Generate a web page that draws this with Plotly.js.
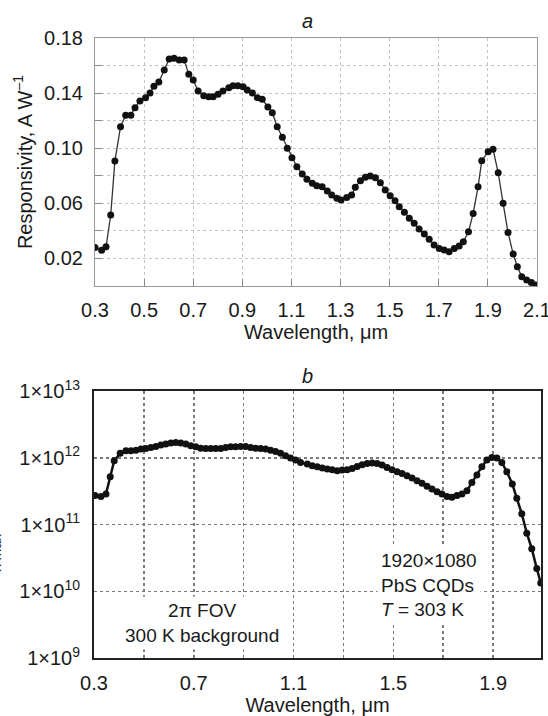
<!DOCTYPE html>
<html>
<head>
<meta charset="utf-8">
<script src="https://cdn.plot.ly/plotly-3.0.1.min.js"></script>
<style>html,body{margin:0;padding:0;background:#fff;}#chart{width:548px;height:716px;}</style>
</head>
<body>
<div id="chart"></div>
<script>
// Panel a: responsivity (A/W) vs wavelength (um)
var wavelengthA = [0.300,0.327,0.345,0.364,0.381,0.404,0.425,0.446,0.463,0.483,
  0.506,0.524,0.540,0.560,0.582,0.602,0.622,0.643,0.663,0.682,
  0.700,0.720,0.743,0.763,0.781,0.801,0.821,0.845,0.862,0.882,
  0.903,0.920,0.941,0.961,0.981,1.004,1.022,1.042,1.063,1.083,
  1.102,1.122,1.144,1.163,1.185,1.203,1.225,1.246,1.264,1.285,
  1.302,1.325,1.345,1.360,1.381,1.401,1.421,1.442,1.462,1.482,
  1.502,1.522,1.539,1.560,1.580,1.600,1.620,1.641,1.661,1.681,
  1.702,1.722,1.742,1.763,1.783,1.800,1.821,1.840,1.860,1.875,
  1.901,1.921,1.942,1.962,1.982,2.003,2.020,2.038,2.058,2.077,2.095];
var responsivity = [0.028,0.026,0.0285,0.0515,0.0907,0.1156,0.124,0.124,0.1294,0.1343,
  0.1367,0.140,0.145,0.148,0.1568,0.1648,0.1653,0.164,0.164,0.1536,
  0.1495,0.1415,0.138,0.1374,0.1374,0.1391,0.1415,0.1439,0.1454,0.1454,
  0.1446,0.1422,0.140,0.1367,0.1355,0.130,0.1258,0.1156,0.108,0.100,
  0.0931,0.0866,0.0813,0.0774,0.0745,0.0728,0.072,0.0689,0.066,0.0636,
  0.0624,0.0643,0.066,0.0716,0.0764,0.0789,0.0798,0.0786,0.075,0.0697,
  0.0655,0.0619,0.0575,0.0535,0.0491,0.0455,0.0413,0.0377,0.0339,0.0297,
  0.0273,0.0261,0.0249,0.0273,0.029,0.0321,0.0394,0.0527,0.072,0.0909,
  0.0975,0.0992,0.0822,0.060,0.0389,0.0232,0.014,0.0067,0.0043,0.0026,0.0007];
var tickValsA = [0.3,0.5,0.7,0.9,1.1,1.3,1.5,1.7,1.9,2.1];
var tickTextA = ['0.3','0.5','0.7','0.9','1.1','1.3','1.5','1.7','1.9','2.1'];

// Panel b: detectivity vs wavelength (um)
var wavelengthB = [0.304,0.328,0.348,0.365,0.381,0.405,0.428,0.448,0.468,0.488,
  0.508,0.528,0.548,0.568,0.588,0.608,0.628,0.648,0.668,0.688,
  0.708,0.728,0.748,0.768,0.788,0.808,0.828,0.848,0.868,0.888,
  0.908,0.928,0.948,0.968,0.988,1.008,1.028,1.048,1.068,1.088,
  1.108,1.128,1.155,1.175,1.195,1.215,1.235,1.255,1.275,1.295,
  1.315,1.335,1.355,1.375,1.395,1.415,1.435,1.455,1.475,1.495,
  1.515,1.535,1.555,1.575,1.595,1.615,1.635,1.655,1.675,1.695,
  1.715,1.735,1.755,1.775,1.795,1.815,1.835,1.855,1.875,1.895,
  1.915,1.935,1.955,1.977,1.995,2.015,2.035,2.055,2.075,2.091];
var detectivity = [2.71e11,2.63e11,2.87e11,5.20e11,9.02e11,1.17e12,1.27e12,1.27e12,1.30e12,1.35e12,
  1.38e12,1.43e12,1.48e12,1.55e12,1.60e12,1.66e12,1.69e12,1.66e12,1.60e12,1.51e12,
  1.46e12,1.39e12,1.38e12,1.38e12,1.38e12,1.38e12,1.43e12,1.46e12,1.46e12,1.48e12,
  1.48e12,1.43e12,1.39e12,1.38e12,1.35e12,1.30e12,1.24e12,1.17e12,1.07e12,9.89e11,
  9.23e11,8.51e11,8.05e11,7.59e11,7.35e11,7.02e11,6.76e11,6.61e11,6.40e11,6.55e11,
  6.61e11,6.92e11,7.41e11,7.87e11,8.22e11,8.32e11,8.22e11,7.76e11,7.16e11,6.61e11,
  6.17e11,5.83e11,5.37e11,4.98e11,4.54e11,4.14e11,3.73e11,3.40e11,3.09e11,2.87e11,
  2.63e11,2.55e11,2.71e11,2.87e11,3.21e11,4.27e11,5.50e11,7.35e11,9.23e11,1.01e12,
  9.89e11,8.51e11,6.17e11,4.05e11,2.47e11,1.45e11,7.41e10,4.34e10,2.19e10,1.33e10];

var logTickVals = [1e9, 1e10, 1e11, 1e12, 1e13];
var logTickText = ['1×10<sup>9</sup>','1×10<sup>10</sup>','1×10<sup>11</sup>','1×10<sup>12</sup>','1×10<sup>13</sup>'];

var W = 548, H = 716;
var FONT = 'Liberation Sans, Arial, Helvetica, sans-serif';

var traces = [
  {x: wavelengthA, y: responsivity, xaxis:'x', yaxis:'y', type:'scatter', mode:'lines+markers',
   line:{color:'#333', width:1.3}, marker:{color:'#111', size:7}, hoverinfo:'x+y'},
  {x: wavelengthB, y: detectivity, xaxis:'x2', yaxis:'y2', type:'scatter', mode:'lines+markers',
   line:{color:'#111', width:2.5}, marker:{color:'#111', size:7}, hoverinfo:'x+y'}
];

var gridA = '#c4c4c4';
var gridB = '#7a7a7a';

var layout = {
  width: W, height: H,
  margin:{l:0, r:0, t:0, b:0},
  paper_bgcolor:'#fff', plot_bgcolor:'#fff',
  showlegend:false,
  font:{family:FONT, size:20, color:'#1a1a1a'},
  xaxis:{
    domain:[95/W, 537/W], anchor:'y', range:[0.3, 2.1],
    tickmode:'array', tickvals:tickValsA, ticktext:tickTextA,
    ticks:'inside', ticklen:7, tickcolor:'#888', ticklabelstandoff:6,
    ticklabeloverflow:'allow',
    showgrid:true, gridcolor:gridA, griddash:'dot', gridwidth:1,
    showline:true, linecolor:'#999', linewidth:1, mirror:true, zeroline:false,
    automargin:false,
    title:{text:'Wavelength, μm', font:{size:20}, standoff:4}
  },
  yaxis:{
    domain:[1-286/H, 1-38/H], anchor:'x', range:[0, 0.18],
    tick0:0.02, dtick:0.04, tickformat:'.2f',
    ticks:'inside', ticklen:7, tickcolor:'#888', ticklabelstandoff:7,
    showgrid:true, gridcolor:gridA, griddash:'dot', gridwidth:1,
    minor:{tick0:0, dtick:0.02, showgrid:true, gridcolor:gridA, griddash:'dot', gridwidth:1, ticks:'inside', ticklen:7, tickcolor:'#888'},
    showline:true, linecolor:'#999', linewidth:1, mirror:true, zeroline:false,
    automargin:false,
    title:{text:'Responsivity, A W<sup>–1</sup>', font:{size:20}, standoff:6}
  },
  xaxis2:{
    domain:[94/W, 541/W], anchor:'y2', range:[0.3, 2.092],
    tick0:0.3, dtick:0.4, tickformat:'.1f',
    ticks:'', ticklabelstandoff:6, ticklabeloverflow:'allow',
    showgrid:true, gridcolor:gridB, griddash:'dot', gridwidth:1.5,
    minor:{tick0:0.3, dtick:0.2, showgrid:true, gridcolor:gridB, griddash:'dot', gridwidth:1.5},
    showline:true, linecolor:'#222', linewidth:2, mirror:true, zeroline:false,
    automargin:false,
    title:{text:'Wavelength, μm', font:{size:20}, standoff:2}
  },
  yaxis2:{
    domain:[1-658/H, 1-391/H], anchor:'x2', type:'log', range:[9, 13],
    tickvals:logTickVals, ticktext:logTickText, tickfont:{size:20},
    ticks:'', ticklabelstandoff:8, ticklabeloverflow:'allow',
    showgrid:true, gridcolor:gridB, griddash:'dot', gridwidth:1.5,
    showline:true, linecolor:'#222', linewidth:2, mirror:true, zeroline:false,
    automargin:false
  },
  annotations:[
    {text:'<i>a</i>', xref:'paper', yref:'paper', x:307/W, y:1-21/H, xanchor:'center', yanchor:'middle', showarrow:false, font:{size:20}},
    {text:'<i>b</i>', xref:'paper', yref:'paper', x:307/W, y:1-376/H, xanchor:'center', yanchor:'middle', showarrow:false, font:{size:20}},
    {text:'D*<sub>λ max</sub>, cm Hz<sup>1/2</sup> W<sup>–1</sup>', xref:'paper', yref:'paper', x:6/W, y:1-500/H, xanchor:'right', yanchor:'middle', textangle:-90, showarrow:false, font:{size:20}},
    {text:'2π FOV<br>300 K background', xref:'paper', yref:'paper', x:202/W, y:1-623/H, xanchor:'center', yanchor:'middle', align:'center', showarrow:false, font:{size:19}, bgcolor:'#fff', borderpad:3},
    {text:'1920×1080<br>PbS CQDs<br><i>T</i> = 303 K', xref:'paper', yref:'paper', x:377/W, y:1-585/H, xanchor:'left', yanchor:'middle', align:'left', showarrow:false, font:{size:19}, bgcolor:'#fff', borderpad:3}
  ]
};

Plotly.newPlot('chart', traces, layout, {staticPlot:true, displayModeBar:false});
</script>
</body>
</html>
